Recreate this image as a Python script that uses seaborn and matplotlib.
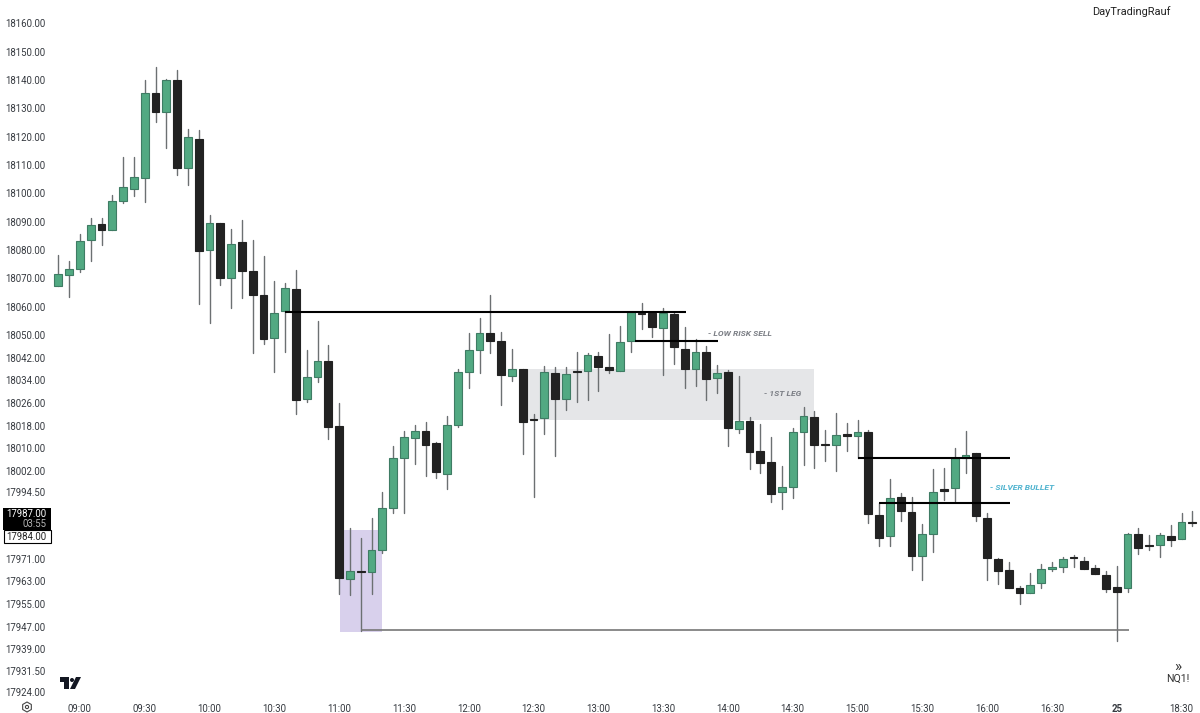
import pandas as pd
import numpy as np
import matplotlib
matplotlib.use("Agg")
import matplotlib.pyplot as plt
from matplotlib.patches import Rectangle, Polygon, Circle, RegularPolygon
from matplotlib.transforms import Affine2D
import seaborn as sns

sns.set_style("white")
plt.rcParams['font.family'] = ['Roboto', 'DejaVu Sans']

# -----------------------------------
# Candles
# -----------------------------------

opens = [18067.2, 18071.2, 18073.4, 18083.4, 18089.2, 18087.0, 18097.4, 18101.6, 18105.5, 18135.3,
         18128.8, 18139.9, 18109.0, 18119.3, 18079.9, 18089.6, 18070.0, 18082.9, 18072.7, 18064.1,
         18048.9, 18058.5, 18066.1, 18027.5, 18035.0, 18040.9, 18017.9, 17964.0, 17966.8, 17966.4,
         17974.2, 17988.9, 18006.5, 18013.8, 18016.2, 18011.8, 18001.0, 18018.2, 18037.0, 18044.6,
         18050.6, 18047.8, 18035.4, 18038.0, 18020.5, 18020.8, 18036.5, 18027.5, 18037.4, 18037.4,
         18042.6, 18038.7, 18037.3, 18048.0, 18057.7, 18057.6, 18052.5, 18057.3, 18045.2, 18037.9,
         18044.1, 18034.9, 18036.8, 18016.8, 18019.8, 18008.9, 18005.2, 17994.5, 17996.3, 18015.8,
         18021.0, 18011.5, 18011.3, 18014.9, 18014.3, 18015.6, 17986.6, 17979.2, 17992.7, 17987.6,
         17971.9, 17979.6, 17995.5, 17995.9, 18006.5, 18008.5, 17985.5, 17970.8, 17966.9, 17960.8,
         17959.0, 17962.3, 17967.5, 17968.2, 17971.5, 17970.1, 17967.7, 17965.4, 17960.9, 17960.6,
         17979.8, 17975.8, 17976.0, 17979.1, 17978.0, 17984.0]
closes = [18071.4, 18073.4, 18083.2, 18088.8, 18087.2, 18097.2, 18102.1, 18105.6, 18135.5, 18128.6,
          18140.0, 18108.8, 18119.8, 18079.6, 18089.6, 18070.0, 18082.1, 18072.5, 18064.0, 18048.5,
          18057.6, 18066.6, 18027.0, 18035.0, 18040.7, 18017.4, 17964.1, 17966.7, 17966.5, 17974.0,
          17988.8, 18006.5, 18014.0, 18016.0, 18011.3, 18001.5, 18018.1, 18036.8, 18044.6, 18050.8,
          18047.8, 18035.7, 18038.0, 18019.4, 18020.1, 18036.8, 18027.4, 18036.1, 18037.0, 18042.9,
          18038.6, 18037.5, 18047.4, 18058.1, 18057.3, 18052.9, 18057.8, 18045.6, 18038.1, 18044.1,
          18034.5, 18036.5, 18017.2, 18019.5, 18008.8, 18004.8, 17993.8, 17996.2, 18015.6, 18021.3,
          18011.3, 18011.1, 18014.7, 18014.5, 18015.6, 17986.8, 17978.5, 17992.5, 17987.8, 17972.0,
          17979.6, 17994.7, 17995.1, 18006.5, 18007.8, 17986.2, 17971.3, 17966.7, 17960.8, 17959.0,
          17961.8, 17967.5, 17968.2, 17971.0, 17971.1, 17967.4, 17965.6, 17960.4, 17959.4, 17979.9,
          17974.9, 17975.4, 17979.3, 17977.8, 17984.1, 17983.6]
highs = [18078.2, 18076.1, 18085.6, 18091.4, 18091.4, 18099.4, 18112.9, 18112.7, 18140.0, 18144.5,
         18140.2, 18143.5, 18122.8, 18122.4, 18092.5, 18089.6, 18087.3, 18090.6, 18083.5, 18077.9,
         18069.2, 18068.5, 18072.9, 18044.7, 18054.8, 18046.3, 18025.9, 17981.8, 17978.5, 17985.5,
         17994.7, 18010.8, 18016.2, 18018.2, 18019.2, 18012.3, 18021.5, 18038.0, 18050.6, 18055.9,
         18064.2, 18051.0, 18045.0, 18038.0, 18022.0, 18039.2, 18038.8, 18038.8, 18044.1, 18043.5,
         18044.1, 18050.2, 18053.2, 18058.1, 18061.2, 18058.1, 18059.4, 18057.9, 18052.7, 18048.5,
         18046.1, 18039.3, 18037.6, 18035.5, 18020.9, 18018.6, 18013.9, 18003.8, 18017.3, 18024.4,
         18023.3, 18016.5, 18022.3, 18019.0, 18020.0, 18016.5, 17990.6, 17999.3, 17994.3, 17992.9,
         17983.3, 18002.6, 18002.9, 18010.0, 18016.2, 18008.5, 17987.0, 17971.4, 17969.8, 17961.5,
         17965.9, 17969.2, 17970.0, 17971.5, 17972.3, 17971.8, 17968.8, 17966.8, 17968.6, 17980.1,
         17981.8, 17979.5, 17980.1, 17983.0, 17987.0, 17987.9]
lows = [18067.2, 18063.4, 18072.4, 18076.2, 18081.9, 18087.0, 18096.7, 18099.2, 18097.0, 18125.3,
        18115.9, 18106.6, 18102.8, 18060.8, 18054.4, 18067.8, 18059.4, 18063.2, 18043.8, 18046.8,
        18037.0, 18044.1, 18022.1, 18026.2, 18033.5, 18013.2, 17958.6, 17958.3, 17945.6, 17958.6,
        17973.2, 17987.3, 17987.0, 18004.3, 18000.2, 17999.4, 17995.6, 18017.6, 18031.4, 18036.7,
        18043.5, 18025.2, 18033.8, 18007.9, 17992.9, 18014.9, 18007.3, 18023.5, 18026.2, 18027.0,
        18030.1, 18036.7, 18037.3, 18043.9, 18052.2, 18049.2, 18035.9, 18039.6, 18031.2, 18032.0,
        18027.0, 18029.4, 18010.9, 18015.3, 18002.6, 18001.2, 17991.2, 17988.6, 17992.3, 18004.1,
        18003.2, 18005.5, 18002.1, 18009.0, 18006.5, 17983.8, 17975.5, 17975.6, 17984.4, 17966.9,
        17963.4, 17973.5, 17991.8, 17991.5, 18001.4, 17984.3, 17963.5, 17962.0, 17960.8, 17955.2,
        17959.0, 17960.6, 17966.8, 17966.2, 17968.2, 17967.4, 17965.6, 17959.2, 17942.0, 17959.2,
        17972.7, 17974.1, 17971.8, 17975.6, 17978.0, 17982.6]

# every 6th candle carries a label on the time axis
time_ticks = [2, 8, 14, 20, 26, 32, 38, 44, 50, 56, 62, 68, 74, 80, 86, 92, 98, 104]
time_labels = ['09:00', '09:30', '10:00', '10:30', '11:00', '11:30', '12:00', '12:30', '13:00',
               '13:30', '14:00', '14:30', '15:00', '15:30', '16:00', '16:30', '25', '18:30']

price_ticks = [18160, 18150, 18140, 18130, 18120, 18110, 18100, 18090, 18080, 18070, 18060, 18050,
               18042, 18034, 18026, 18018, 18010, 18002, 17994.5, 17971, 17963, 17955, 17947,
               17939, 17931.5, 17924]

GREEN = '#52a982'
GREEN_EDGE = '#3f7c64'
BLACK = '#222222'
WICK = '#6c7072'
TEXT = '#363a40'
LABEL_SIZE = 6.9

# -----------------------------------
# Layout: px is the position in the 1200x713 picture
# -----------------------------------

W, H = 1200, 713
fig = plt.figure(figsize=(W / 100, H / 100), dpi=100, facecolor='white')
ax = fig.add_axes([50 / W, 16 / H, 1150 / W, 697 / H])


def px(x, y):
    return fig.transFigure.inverted().transform(
        fig.dpi_scale_trans.transform((x / 100, (H - y) / 100)))


# -----------------------------------
# Zones
# -----------------------------------

ax.add_patch(Rectangle((26.08, 17945.3), 3.87, 17981.2 - 17945.3, color='#d8d0ec', lw=0, zorder=1))
ax.add_patch(Rectangle((43, 18020.1), 27, 18038 - 18020.1, color='#e5e6e8', lw=0, zorder=1))

# -----------------------------------
# Candles
# -----------------------------------

df = pd.DataFrame({'pos': np.arange(len(opens)), 'open': opens, 'close': closes,
                   'high': highs, 'low': lows})
df['top'] = df[['open', 'close']].max(axis=1)
df['bottom'] = df[['open', 'close']].min(axis=1)
df['height'] = df['top'] - df['bottom']
df['up'] = df['close'] >= df['open']

wicks = df.melt(id_vars=['pos', 'up'], value_vars=['high', 'low'], value_name='price')
sns.lineplot(data=wicks, x='pos', y='price', units='pos', estimator=None, color=WICK,
             lw=1.0, ax=ax, zorder=2, legend=False)

for up, face, edge in [(True, GREEN, GREEN_EDGE), (False, BLACK, BLACK)]:
    part = df[df['up'] == up].sort_values('pos')
    sns.barplot(data=part, x='pos', y='height', bottom=part['bottom'].values, native_scale=True,
                width=0.72, color=face, saturation=1, edgecolor=edge, linewidth=0.8,
                errorbar=None, ax=ax, zorder=3)

# levels
ax.hlines(18058.2, 21, 58.1, color='black', lw=1.5, zorder=4)
ax.hlines(18048.0, 53.4, 61.1, color='black', lw=1.5, zorder=4)
ax.hlines(18006.5, 74, 88.1, color='black', lw=1.5, zorder=4)
ax.hlines(17990.8, 76, 88.1, color='black', lw=1.5, zorder=4)
ax.hlines(17946.0, 28, 99.1, color='#777777', lw=1.2, zorder=4)

# -----------------------------------
# Axes: 10.8 px per candle with candle 0 at x=58.3, 2.833 px per point with 18140 at y=80
# -----------------------------------

ax.set_xlim((50 - 58.3) / 10.8, (1200 - 58.3) / 10.8)
ax.set_ylim(18140 - (697 - 80) / 2.833, 18140 + 80 / 2.833)
ax.set_xlabel('')
ax.set_ylabel('')
ax.set_xticks(time_ticks)
ax.set_xticklabels(time_labels)
ax.set_yticks(price_ticks)
ax.set_yticklabels([f'{p:.2f}' for p in price_ticks])
ax.tick_params(axis='both', length=0, labelsize=LABEL_SIZE, labelcolor=TEXT)
ax.tick_params(axis='x', pad=5)
ax.tick_params(axis='y', pad=3)
ax.get_xticklabels()[16].set_fontweight('bold')
sns.despine(ax=ax, left=True, bottom=True)
ax.patch.set_alpha(0)

# -----------------------------------
# Notes
# -----------------------------------

note = dict(fontstyle='italic', fontweight='bold', fontsize=6.1, va='center', ha='left',
            color='#7b7e85', zorder=5)
ax.text(60.2, 18050.6, '- LOW RISK SELL', **note)
ax.text(65.3, 18029.3, '- 1ST LEG', **note)
note['color'] = '#4fb3cf'
ax.text(86.3, 17996.0, '- SILVER BULLET', **note)

fig.text(*px(1092, 12), 'DayTradingRauf', fontsize=7.9, color='#222222', va='center', ha='left')
fig.text(*px(1178, 667), '»', fontsize=11, color='#333333', va='center', ha='center')
fig.text(*px(1178, 679), 'NQ1!', fontsize=7.6, color='#333333', va='center', ha='center')

# price tags
fig.patches.append(Rectangle(px(3, 530), 48 / W, 22 / H, transform=fig.transFigure, fc='black', ec='none'))
fig.patches.append(Rectangle(px(3.5, 543), 47.5 / W, 13 / H, transform=fig.transFigure, fc='white',
                             ec='black', lw=0.8))
fig.text(*px(46.5, 514), '17987.00', fontsize=LABEL_SIZE, color='white', va='center', ha='right')
fig.text(*px(46.5, 524), '03:55', fontsize=LABEL_SIZE, color='#b5b5b5', va='center', ha='right')
fig.text(*px(46.5, 536.5), '17984.00', fontsize=LABEL_SIZE, color='#222222', va='center', ha='right')

# logo and settings icon
fig.patches.append(Polygon([px(60, 677), px(69, 677), px(69, 689), px(64, 689), px(64, 682), px(60, 682)],
                           transform=fig.transFigure, fc='#131722', ec='none'))
fig.patches.append(Polygon([px(76, 677), px(81, 677), px(75, 689), px(70, 689)],
                           transform=fig.transFigure, fc='#131722', ec='none'))

pixel_tf = Affine2D().scale(1, -1).translate(0, H)
fig.patches.append(Circle((72, 680), 2, transform=pixel_tf, fc='#131722', ec='none'))
fig.patches.append(RegularPolygon((27, 707), 6, radius=5, transform=pixel_tf, fc='none', ec='#444444', lw=0.8))
fig.patches.append(Circle((27, 707), 1.6, transform=pixel_tf, fc='none', ec='#444444', lw=0.8))

fig.savefig('out.png', dpi=100)
